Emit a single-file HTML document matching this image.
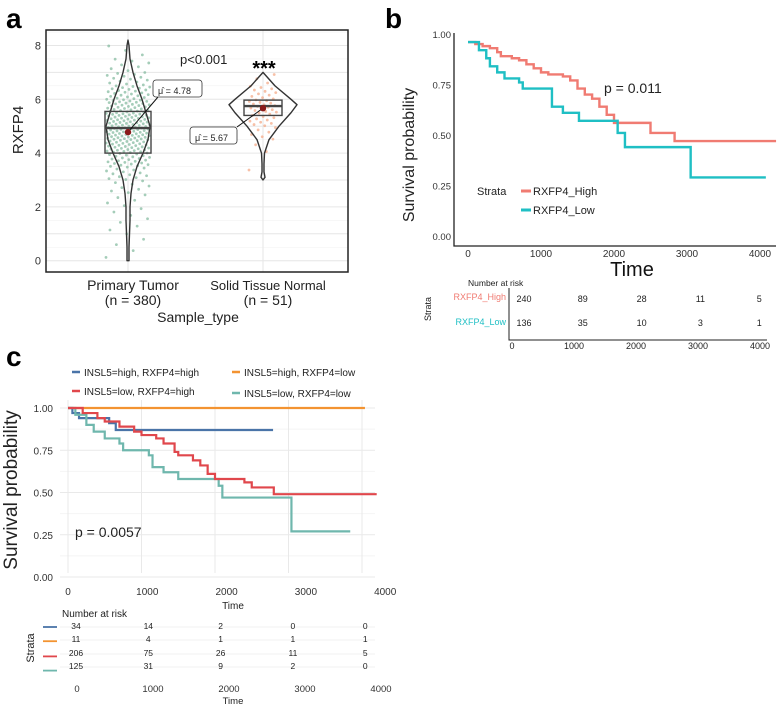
<!DOCTYPE html>
<html><head><meta charset="utf-8">
<style>
html,body{margin:0;padding:0;background:#fff;}
svg{display:block;font-family:"Liberation Sans",sans-serif;}
</style></head>
<body>
<svg id="fig" width="777" height="705" viewBox="0 0 777 705" xmlns="http://www.w3.org/2000/svg"></svg>
<script>
// ---------- Panel a data ----------
const aCategories = ["Primary Tumor", "Solid Tissue Normal"];
const aCounts = [380, 51];
const aMeans = [4.78, 5.67];
const aQ1 = [4.0, 5.4];
const aMedian = [4.93, 5.75];
const aQ3 = [5.55, 5.97];
const aViolinLevels = [[0,0.5,1,1.5,2,2.5,3,3.5,4,4.5,5,5.5,6,6.5,7,7.5,8,8.2],[3.0,3.1,3.3,3.6,4,4.5,5,5.5,5.8,6,6.5,7]];
const aViolinWidth = [[1,1,1.5,2,2,3,5,9,15,20,22,18,14,9,5,2,1,0],[0,2,1,1,1.5,6,16,28,34,28,12,0]];
const aYTicks = [0,2,4,6,8];
// ---------- Panel b data ----------
const bHighTime = [0,100,200,300,400,450,600,700,800,900,1000,1100,1300,1400,1500,1600,1700,1800,1900,2000,2500,2830];
const bHighSurv = [0.96,0.95,0.94,0.93,0.91,0.89,0.88,0.87,0.85,0.83,0.81,0.80,0.79,0.77,0.73,0.70,0.68,0.64,0.60,0.56,0.51,0.47];
const bHighEnd = 4220;
const bLowTime = [0,150,250,300,400,500,700,750,1150,1300,1520,2050,2150,3050];
const bLowSurv = [0.96,0.92,0.88,0.84,0.81,0.78,0.76,0.73,0.64,0.61,0.57,0.51,0.44,0.29];
const bLowEnd = 4080;
const bXTicks = [0,1000,2000,3000,4000];
const bYTicks = [0,0.25,0.5,0.75,1];
const bRiskHigh = [240,89,28,11,5];
const bRiskLow = [136,35,10,3,1];
// ---------- Panel c data ----------
const cBlueTime = [0,60,150,560,650];
const cBlueSurv = [1,0.97,0.94,0.91,0.87];
const cBlueEnd = 2790;
const cOrangeTime = [0];
const cOrangeSurv = [1];
const cOrangeEnd = 4040;
const cRedTime = [0,200,400,500,700,900,1000,1200,1300,1450,1500,1700,1800,1900,2000,2400,2500,2800];
const cRedSurv = [1,0.97,0.94,0.92,0.89,0.86,0.84,0.82,0.79,0.74,0.72,0.69,0.66,0.61,0.58,0.56,0.53,0.49];
const cRedEnd = 4200;
const cTealTime = [0,100,250,350,500,700,750,1100,1150,1300,1500,2050,2100,3040];
const cTealSurv = [1,0.96,0.90,0.86,0.82,0.79,0.75,0.72,0.65,0.62,0.58,0.54,0.47,0.27];
const cTealEnd = 3840;
const cRisk = [[34,14,2,0,0],[11,4,1,1,1],[206,75,26,11,5],[125,31,9,2,0]];
const cLegend = ["INSL5=high, RXFP4=high","INSL5=high, RXFP4=low","INSL5=low, RXFP4=high","INSL5=low, RXFP4=low"];

const NS="http://www.w3.org/2000/svg";
const svg=document.getElementById('fig');
function mk(tag,attrs,parent,text){const e=document.createElementNS(NS,tag);for(const k in attrs)e.setAttribute(k,attrs[k]);if(text!==undefined)e.textContent=text;(parent||svg).appendChild(e);return e;}
function stepPath(ts,vs,end,x,y){let d="M"+x(ts[0])+","+y(vs[0]);for(let i=1;i<ts.length;i++){d+=" H"+x(ts[i])+" V"+y(vs[i]);}d+=" H"+x(end);return d;}

// ================= PANEL A =================
const ga=mk('g',{});


let t=mk('text',{x:6,y:28,'font-size':28,'font-weight':'bold'},ga,'a');


const ay=v=>260.7-26.9*v;
const ax=i=>[128,263][i];
for(let v=0;v<=8.5;v+=0.5){const l=mk('line',{x1:46,x2:348,y1:ay(v),y2:ay(v),stroke:v%1?'#f2f2f2':'#e6e6e6','stroke-width':v%1?0.6:1},ga);}
for(let i=0;i<2;i++){const l=mk('line',{x1:ax(i),x2:ax(i),y1:30,y2:272,stroke:'#e6e6e6'},ga);}
aYTicks.forEach(v=>{const tx=mk('text',{x:41,y:ay(v)+4,'font-size':11,'text-anchor':'end',fill:'#333'},ga,String(v));});
const colsPts=['#7fb89b','#f4a582'];
[0,1].forEach(i=>{
  const lv=aViolinLevels[i],w=aViolinWidth[i];const n=Math.min(aCounts[i],260);
  const cum=[0];for(let k=1;k<lv.length;k++)cum.push(cum[k-1]+(w[k]+w[k-1])/2*(lv[k]-lv[k-1]));
  const tot=cum[cum.length-1];
  for(let j=0;j<n;j++){const q=(j+0.5)/n*tot;let k=1;while(k<cum.length-1&&cum[k]<q)k++;const f=(q-cum[k-1])/((cum[k]-cum[k-1])||1);const v=lv[k-1]+f*(lv[k]-lv[k-1]);const off=((j*0.618)%1*2-1)*(i?14:22);
    const c=mk('circle',{cx:ax(i)+off,cy:ay(v),r:1.4,fill:colsPts[i],opacity:0.7},ga);}
});
[0,1].forEach(i=>{const lv=aViolinLevels[i],w=aViolinWidth[i];let d="M"+ax(i)+","+ay(lv[0]);for(let k=0;k<lv.length;k++)d+=" L"+(ax(i)+w[k])+","+ay(lv[k]);for(let k=lv.length-1;k>=0;k--)d+=" L"+(ax(i)-w[k])+","+ay(lv[k]);d+="Z";
  const p=mk('path',{d:d,fill:'none',stroke:'#333','stroke-width':1.4,'stroke-linejoin':'round'},ga);});
const bw=[23,19];
[0,1].forEach(i=>{const r=mk('rect',{x:ax(i)-bw[i],y:ay(aQ3[i]),width:bw[i]*2,height:ay(aQ1[i])-ay(aQ3[i]),fill:'none',stroke:'#444','stroke-width':1.4},ga);
  const m=mk('line',{x1:ax(i)-bw[i],x2:ax(i)+bw[i],y1:ay(aMedian[i]),y2:ay(aMedian[i]),stroke:'#444','stroke-width':2.4},ga);});
const lbl=[{bx:153,by:80,w:49,lx:158,ly:97},{bx:190,by:127,w:47,lx:237,ly:127}];
[0,1].forEach(i=>{const L=lbl[i];
  const ln=mk('line',{x1:ax(i),y1:ay(aMeans[i]),x2:L.lx,y2:L.ly,stroke:'#111','stroke-width':1},ga);
  const c=mk('circle',{cx:ax(i),cy:ay(aMeans[i]),r:3.2,fill:'#8b1a1a'},ga);
  const r=mk('rect',{x:L.bx,y:L.by,width:L.w,height:17,rx:3,fill:'#fff',stroke:'#333','stroke-width':0.8},ga);
  const tx=mk('text',{x:L.bx+5,y:L.by+14,'font-size':9,fill:'#222'},ga,'\u03BC\u0302 = '+aMeans[i].toFixed(2));});
const fr=mk('rect',{x:46,y:30,width:302,height:242,fill:'none',stroke:'#222','stroke-width':1.5},ga);
t=mk('text',{x:180,y:64,'font-size':13,fill:'#222'},ga,'p<0.001');
t=mk('text',{x:264,y:75,'font-size':20,'font-weight':'bold','text-anchor':'middle'},ga,'***');
[0,1].forEach(i=>{const cx=[133,268][i];
  t=mk('text',{x:cx,y:290,'font-size':i?13:14,'text-anchor':'middle',fill:'#222'},ga,aCategories[i]);
  t=mk('text',{x:cx,y:305,'font-size':14,'text-anchor':'middle',fill:'#222'},ga,'(n = '+aCounts[i]+')');});
t=mk('text',{x:198,y:322,'font-size':14,'text-anchor':'middle',fill:'#222'},ga,'Sample_type');
t=mk('text',{x:0,y:0,'font-size':15,'text-anchor':'middle',transform:'translate(23,130) rotate(-90)',fill:'#222'},ga,'RXFP4');

// ================= PANEL B =================
const gb=mk('g',{});


t=mk('text',{x:385,y:28,'font-size':28,'font-weight':'bold'},gb,'b');
const bx=v=>468+v*0.073;
const by=v=>236-v*202;
t=mk('path',{d:'M454,33 V246 H776',fill:'none',stroke:'#222','stroke-width':1.3},gb);
bYTicks.forEach(v=>{t=mk('text',{x:451,y:by(v)+4,'font-size':9.5,'text-anchor':'end',fill:'#333'},gb,v.toFixed(2));});
bXTicks.forEach(v=>{t=mk('text',{x:bx(v),y:257,'font-size':10,'text-anchor':'middle',fill:'#333'},gb,String(v));});
t=mk('path',{d:stepPath(bHighTime,bHighSurv,bHighEnd,bx,by),fill:'none',stroke:'#f07b72','stroke-width':2.4},gb);
t=mk('path',{d:stepPath(bLowTime,bLowSurv,bLowEnd,bx,by),fill:'none',stroke:'#1fbfc4','stroke-width':2.4},gb);
t=mk('text',{x:604,y:93,'font-size':14,fill:'#222'},gb,'p = 0.011');
t=mk('text',{x:477,y:195,'font-size':11,fill:'#222'},gb,'Strata');
t=mk('line',{x1:521,x2:531,y1:191,y2:191,stroke:'#f07b72','stroke-width':3},gb);
t=mk('text',{x:533,y:195,'font-size':11,fill:'#222'},gb,'RXFP4_High');
t=mk('line',{x1:521,x2:531,y1:210,y2:210,stroke:'#1fbfc4','stroke-width':3},gb);
t=mk('text',{x:533,y:214,'font-size':11,fill:'#222'},gb,'RXFP4_Low');
t=mk('text',{x:632,y:276,'font-size':20,'text-anchor':'middle',fill:'#111'},gb,'Time');
t=mk('text',{x:0,y:0,'font-size':16,'text-anchor':'middle',transform:'translate(414,155) rotate(-90)',fill:'#222'},gb,'Survival probability');
const brx=v=>524+v*0.0588;
t=mk('text',{x:468,y:286,'font-size':8.5,fill:'#222'},gb,'Number at risk');
t=mk('path',{d:'M509,288 V340 H767',fill:'none',stroke:'#222','stroke-width':1},gb);
t=mk('text',{x:0,y:0,'font-size':9,'text-anchor':'middle',transform:'translate(431,309) rotate(-90)',fill:'#222'},gb,'Strata');
t=mk('text',{x:506,y:300,'font-size':9,'text-anchor':'end',fill:'#f07b72'},gb,'RXFP4_High');
t=mk('text',{x:506,y:325,'font-size':9,'text-anchor':'end',fill:'#1fbfc4'},gb,'RXFP4_Low');
bXTicks.forEach((v,i)=>{
  t=mk('text',{x:brx(v),y:302,'font-size':9,'text-anchor':'middle',fill:'#222'},gb,String(bRiskHigh[i]));
  t=mk('text',{x:brx(v),y:326,'font-size':9,'text-anchor':'middle',fill:'#222'},gb,String(bRiskLow[i]));
  t=mk('text',{x:512+v*0.062,y:349,'font-size':9,'text-anchor':'middle',fill:'#222'},gb,String(v));});

// ================= PANEL C =================
const gc=mk('g',{});


t=mk('text',{x:6,y:366,'font-size':28,'font-weight':'bold'},gc,'c');
const cx=v=>68+v*0.0735;
const cy=v=>577-v*169;
const cxl=v=>68+v*0.0793;
const cCols=['#4a74a8','#f39331','#e0474c','#6fb7ad'];
[0,0.25,0.5,0.75,1].forEach(v=>{t=mk('line',{x1:60,x2:375,y1:cy(v),y2:cy(v),stroke:'#e9e9e9'},gc);
  t=mk('text',{x:53,y:cy(v)+4,'font-size':10,'text-anchor':'end',fill:'#333'},gc,v.toFixed(2));});
[0.125,0.375,0.625,0.875].forEach(v=>{t=mk('line',{x1:60,x2:375,y1:cy(v),y2:cy(v),stroke:'#f4f4f4'},gc);});
bXTicks.forEach(v=>{t=mk('line',{x1:cx(v),x2:cx(v),y1:400,y2:573,stroke:'#e9e9e9'},gc);
  t=mk('text',{x:cxl(v),y:595,'font-size':10,'text-anchor':'middle',fill:'#333'},gc,String(v));});
const cSeries=[[cBlueTime,cBlueSurv,cBlueEnd],[cOrangeTime,cOrangeSurv,cOrangeEnd],[cRedTime,cRedSurv,cRedEnd],[cTealTime,cTealSurv,cTealEnd]];
[1,0,3,2].forEach(i=>{const s=cSeries[i];t=mk('path',{d:stepPath(s[0],s[1],s[2],cx,cy),fill:'none',stroke:cCols[i],'stroke-width':2.2},gc);});
const legPos=[[72,372],[232,372],[72,391],[232,393]];
cLegend.forEach((s,i)=>{const p=legPos[i];
  t=mk('line',{x1:p[0],x2:p[0]+8,y1:p[1],y2:p[1],stroke:cCols[i],'stroke-width':2.5},gc);
  t=mk('text',{x:p[0]+12,y:p[1]+4,'font-size':10,fill:'#222'},gc,s);});
t=mk('text',{x:75,y:537,'font-size':14,fill:'#222'},gc,'p = 0.0057');
t=mk('text',{x:233,y:609,'font-size':10,'text-anchor':'middle',fill:'#222'},gc,'Time');
t=mk('text',{x:0,y:0,'font-size':19,'text-anchor':'middle',transform:'translate(17,490) rotate(-90)',fill:'#222'},gc,'Survival probability');
t=mk('text',{x:62,y:617,'font-size':10,fill:'#222'},gc,'Number at risk');
t=mk('text',{x:0,y:0,'font-size':11,'text-anchor':'middle',transform:'translate(34,648) rotate(-90)',fill:'#222'},gc,'Strata');
const crx=v=>76+v*0.0723;
const rowY=[626,639,653,666];
cRisk.forEach((row,r)=>{
  t=mk('line',{x1:43,x2:57,y1:rowY[r]+1+r*1.2,y2:rowY[r]+1+r*1.2,stroke:cCols[r],'stroke-width':1.8},gc);
  t=mk('line',{x1:60,x2:375,y1:rowY[r]+1,y2:rowY[r]+1,stroke:'#f0f0f0'},gc);
  row.forEach((n,k)=>{t=mk('text',{x:crx(bXTicks[k]),y:rowY[r]+3,'font-size':8.5,'text-anchor':'middle',fill:'#222'},gc,String(n));});});
bXTicks.forEach(v=>{t=mk('text',{x:77+v*0.076,y:692,'font-size':9.5,'text-anchor':'middle',fill:'#333'},gc,String(v));});
t=mk('text',{x:233,y:704,'font-size':9.5,'text-anchor':'middle',fill:'#222'},gc,'Time');
</script>
</body></html>
